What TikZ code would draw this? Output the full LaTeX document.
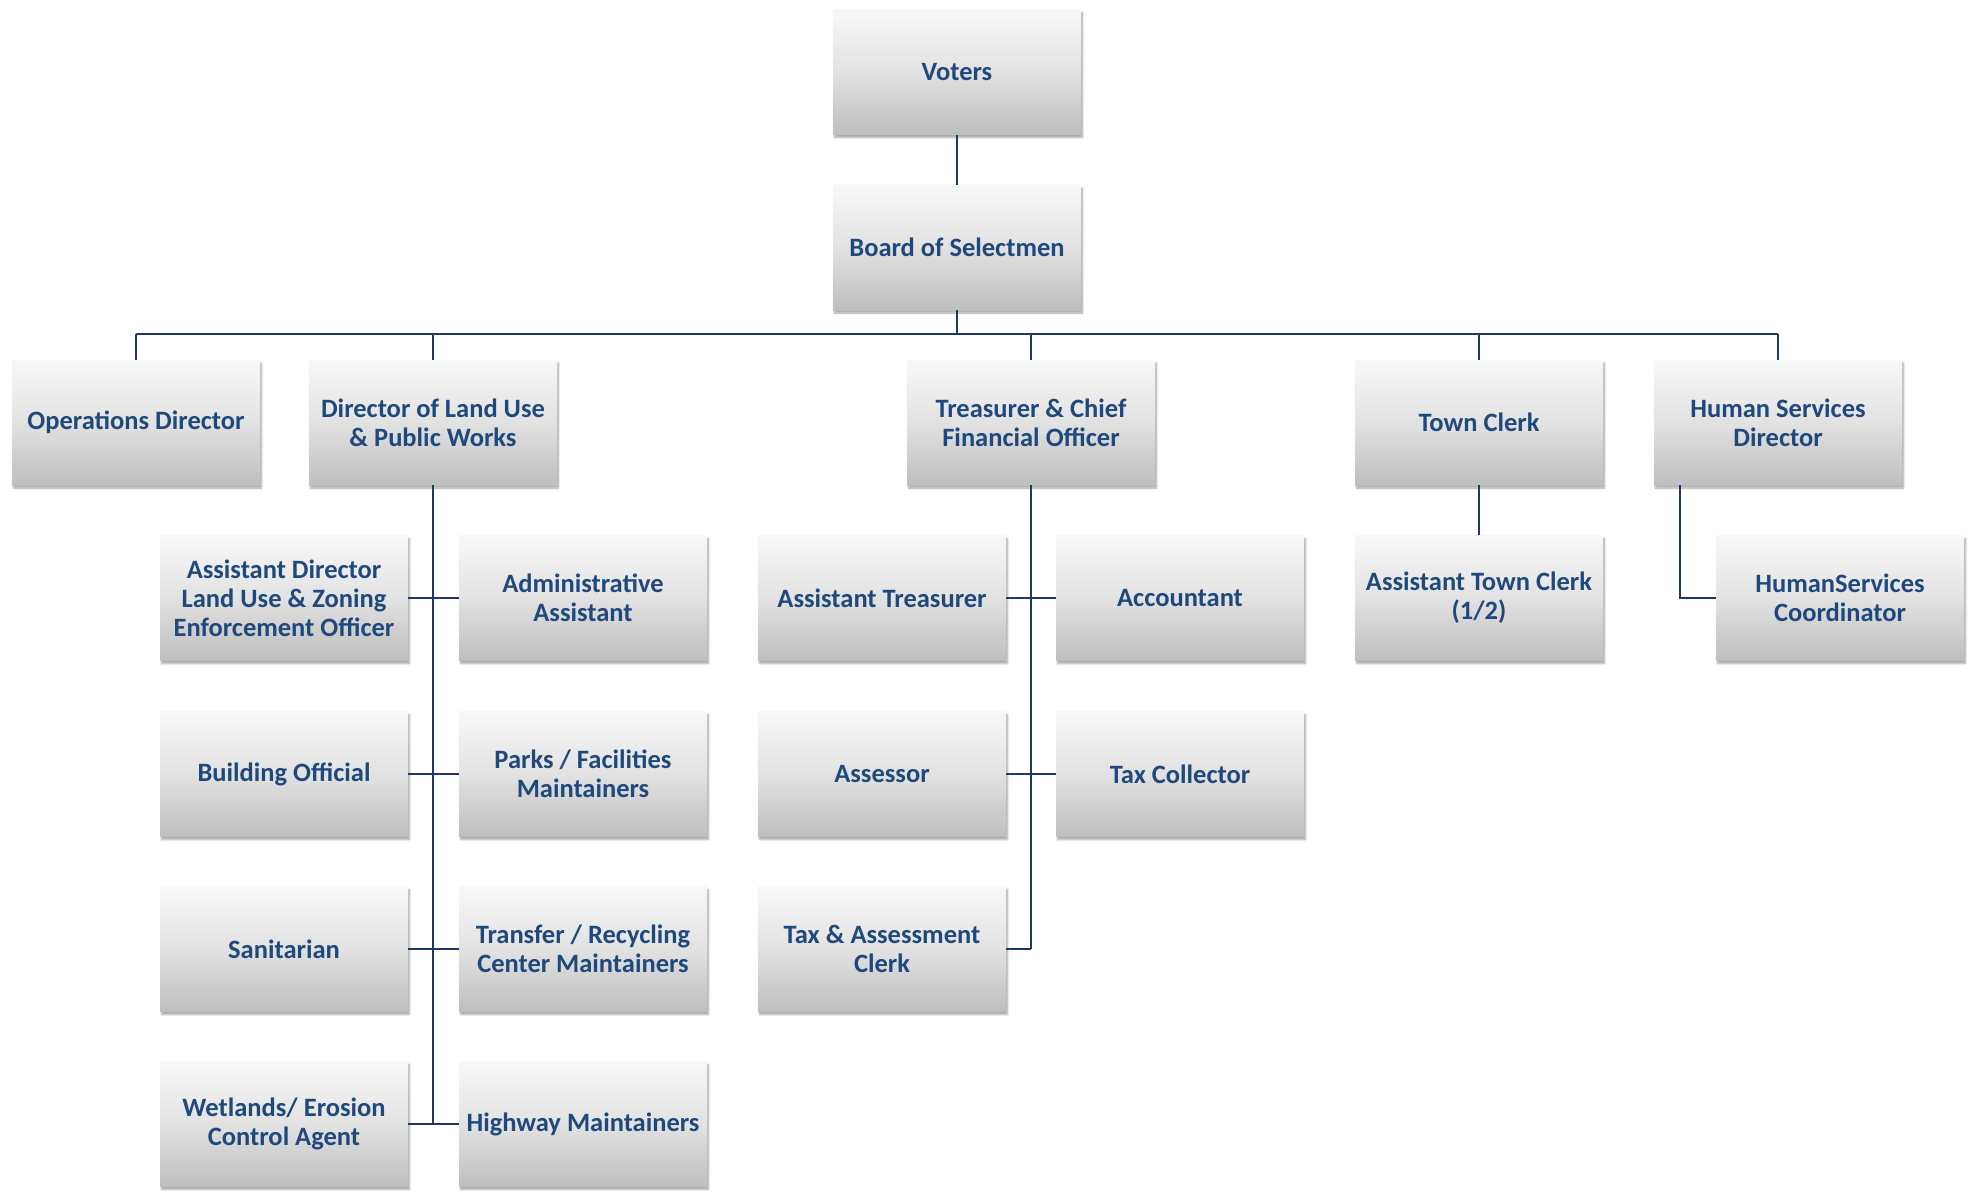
\documentclass[tikz,border=0pt]{standalone}
\usepackage{fontspec}
\setmainfont{Carlito}
\usetikzlibrary{shadows.blur,calc}
\definecolor{txtblue}{RGB}{31,73,125}
\definecolor{lineblue}{RGB}{31,56,100}
\definecolor{topgray}{RGB}{248,248,248}
\definecolor{midgray}{RGB}{226,226,226}
\definecolor{botgray}{RGB}{190,190,190}
\begin{document}
\begin{tikzpicture}[x=1pt,y=-1pt,
  orgbox/.style={rectangle, minimum width=248pt, minimum height=125pt, inner sep=0pt,
    align=center, font=\fontsize{26.5}{29}\selectfont\bfseries, text=txtblue,
    top color=topgray, bottom color=botgray, middle color=midgray,
    blur shadow={shadow xshift=1.5pt, shadow yshift=-3pt, shadow blur steps=6, shadow opacity=35}},
  conn/.style={draw=lineblue, line width=2.2pt}]
\useasboundingbox (0,0) rectangle (1969,1193);
\node[orgbox] (vot) at (957,72) {Voters};
\node[orgbox] (bos) at (957,247.5) {Board of Selectmen};
\node[orgbox] (ops) at (136,422.5) {Operations Director};
\node[orgbox] (lu) at (433,422.5) {Director of Land Use\\\& Public Works};
\node[orgbox] (tr) at (1031,422.5) {Treasurer \& Chief\\Financial Officer};
\node[orgbox] (tc) at (1479,422.5) {Town Clerk};
\node[orgbox] (hs) at (1778,422.5) {Human Services\\Director};
\node[orgbox] (ad) at (284,598) {Assistant Director\\Land Use \& Zoning\\Enforcement Officer};
\node[orgbox] (aa) at (583,598) {Administrative\\Assistant};
\node[orgbox] (at) at (882,598) {Assistant Treasurer};
\node[orgbox] (acc) at (1180,598) {Accountant};
\node[orgbox] (atc) at (1479,598) {Assistant Town Clerk\\(1/2)};
\node[orgbox] (hsc) at (1840,598) {HumanServices\\Coordinator};
\node[orgbox] (bo) at (284,774) {Building Official};
\node[orgbox] (pf) at (583,774) {Parks / Facilities\\Maintainers};
\node[orgbox] (as) at (882,774) {Assessor};
\node[orgbox] (tx) at (1180,774) {Tax Collector};
\node[orgbox] (san) at (284,949) {Sanitarian};
\node[orgbox] (trc) at (583,949) {Transfer / Recycling\\Center Maintainers};
\node[orgbox] (tac) at (882,949) {Tax \& Assessment\\Clerk};
\node[orgbox] (we) at (284,1124) {Wetlands/ Erosion\\Control Agent};
\node[orgbox] (hw) at (583,1124) {Highway Maintainers};
\coordinate (bus) at (957,334);
\coordinate (hsx) at (1680,485);
\draw[conn] (vot.south) -- (bos.north);
\draw[conn] (bos.south) -- (bus);
\draw[conn] (ops.north |- bus) -- (hs.north |- bus);
\foreach \n in {ops,lu,tr,tc,hs} \draw[conn] (\n.north |- bus) -- (\n.north);
% land use trunk
\draw[conn] (lu.south) -- (lu.south |- we.east);
\draw[conn] (ad.east) -- (aa.west);
\draw[conn] (bo.east) -- (pf.west);
\draw[conn] (san.east) -- (trc.west);
\draw[conn] (we.east) -- (hw.west);
% treasurer trunk
\draw[conn] (tr.south) -- (tr.south |- tac.east);
\draw[conn] (at.east) -- (acc.west);
\draw[conn] (as.east) -- (tx.west);
\draw[conn] (tac.east) -- (tr.south |- tac.east);
% town clerk
\draw[conn] (tc.south) -- (atc.north);
% human services
\draw[conn] (hs.south -| hsx) |- (hsc.west);
\end{tikzpicture}
\end{document}
